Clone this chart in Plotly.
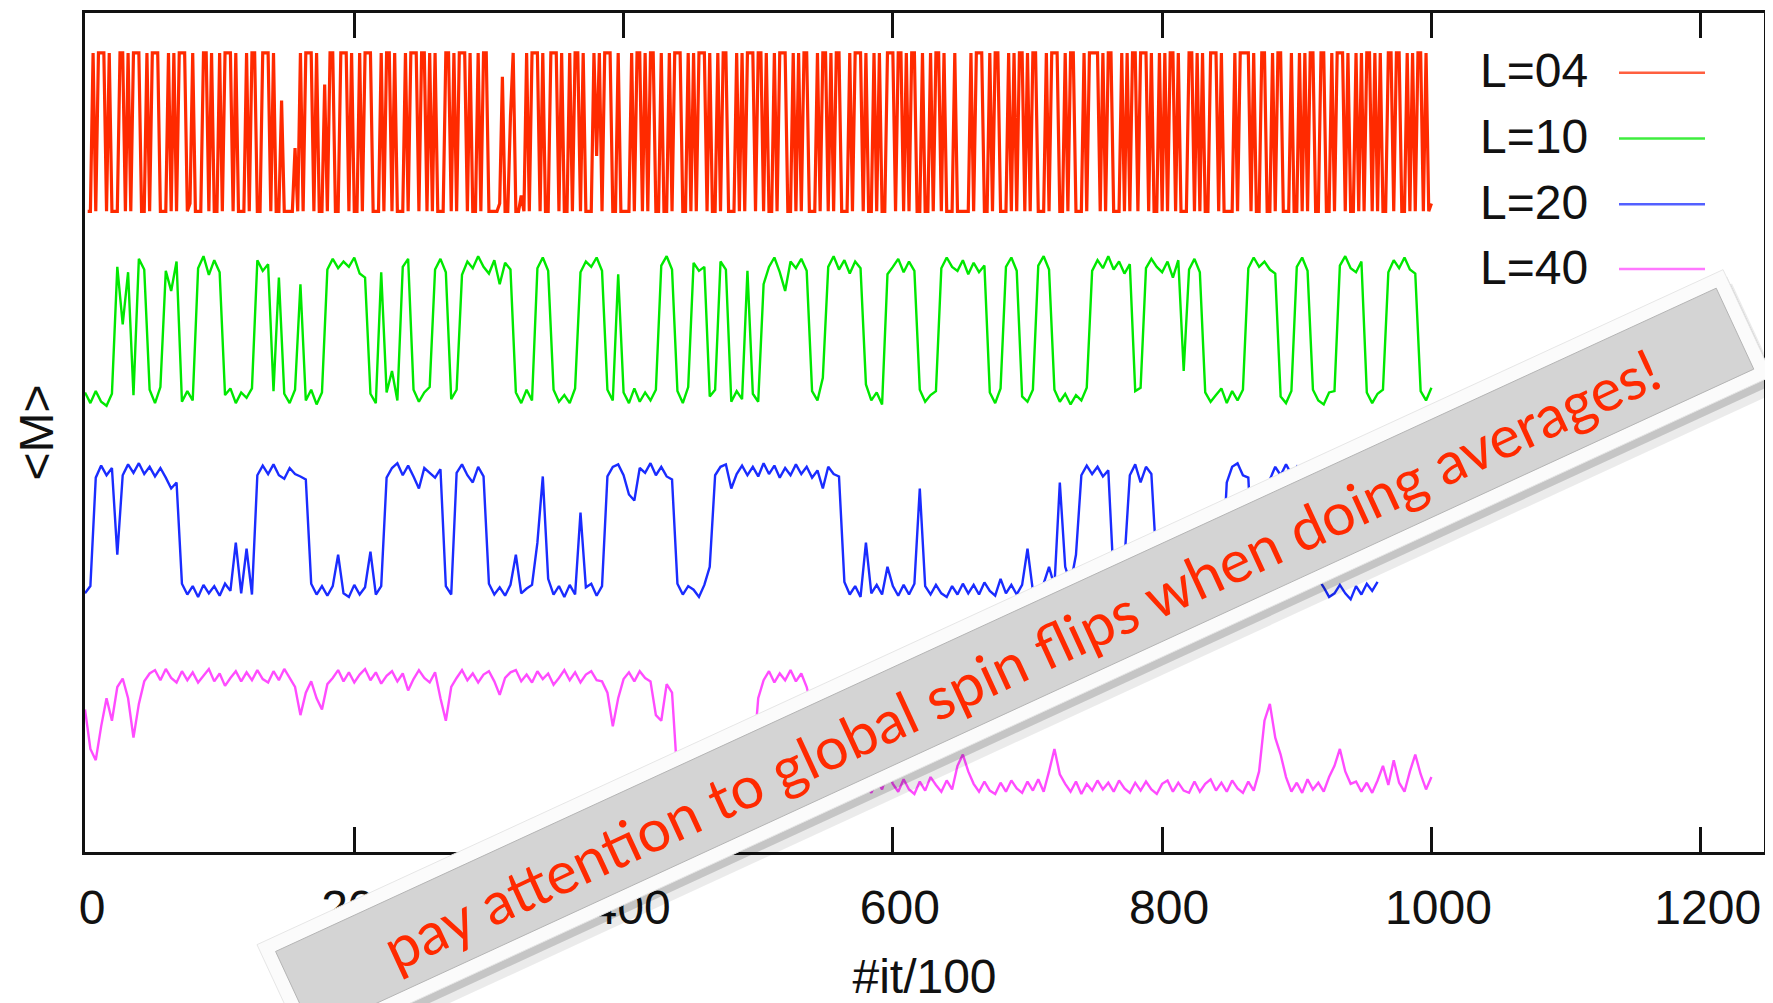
import math
import plotly.graph_objects as go

# ---------------- data ----------------
X_TICKS = [0, 200, 400, 600, 800, 1000, 1200]
LABELS = ["L=04", "L=10", "L=20", "L=40"]

# L=04 : magnetisation in tenths, sampled every 2 sweeps starting at x=2
L04_X0, L04_DX = 2, 2
m_L04 = [
    -10,-10,10,-10,10,10,10,-10,10,-10,-10,-10,10,10,-10,10,-10,10,10,10,-10,-10,10,-10,10,
    10,10,-10,-10,-10,10,-10,10,-10,10,10,10,-10,-9,10,-10,-10,-10,10,10,-10,10,-10,-10,10,
    -10,10,10,10,-10,10,-10,-10,-10,10,-10,10,10,-10,-10,10,10,10,-10,10,-10,-10,4,-10,-10,
    -10,-10,-2,-10,10,-10,10,10,10,-10,10,-10,-10,6,-10,10,10,-10,-10,10,10,10,-10,10,-10,
    -10,10,-10,10,10,10,-10,-10,-10,10,-10,10,10,-10,10,-10,-10,-10,10,-10,10,10,10,-10,10,
    10,-10,10,-10,10,-10,-10,-10,10,10,-10,10,-10,10,10,10,-10,10,-10,-10,10,-10,10,10,-10,
    -10,-10,-10,-9,7,-10,-10,2,10,-10,-10,-8,-10,10,-10,10,10,10,-10,10,-10,-10,10,10,10,
    -10,10,-10,-10,10,-10,10,10,-10,10,-10,-10,-10,10,-3,10,-10,10,10,10,-10,-10,10,-10,-10,
    -10,-10,10,-10,10,10,-10,10,-10,10,10,-10,-10,10,-10,-10,10,-10,10,10,10,-10,-10,10,-10,
    10,-10,10,10,10,-10,10,-10,-10,10,-10,10,10,-10,-10,-10,10,-10,10,-10,10,10,10,-10,10,
    10,-10,10,-10,-10,10,-10,10,10,10,-10,-10,10,-10,10,-10,10,10,-10,-10,-10,10,-10,10,10,
    -10,10,-10,10,10,-10,-10,-10,10,-10,10,10,10,-10,10,-10,-10,10,-10,10,-10,-10,10,10,10,
    -10,10,10,-10,10,-10,10,10,-10,-10,10,-10,-10,10,-10,10,10,-10,10,-10,-10,-10,10,-10,-10,
    -10,-10,-10,10,-10,10,10,10,-10,-10,10,-10,10,10,-10,-10,-10,10,-10,10,-10,10,10,-10,10,
    -10,10,10,-10,-10,-10,10,-10,10,10,10,-10,-10,10,-10,10,10,-10,-10,-10,10,-10,10,10,10,
    10,-10,10,-10,10,10,-10,-10,-10,10,-10,10,-10,10,10,-10,10,10,10,-10,10,-10,-10,10,-10,
    10,-10,10,10,-10,10,-10,-10,-10,10,10,-10,10,-10,10,-10,-10,10,10,10,-10,10,-10,-10,-10,
    -10,10,-10,10,10,10,10,-10,10,-10,-10,10,10,-10,-10,10,-10,10,10,-10,-10,-10,10,-10,-10,
    10,-10,10,-10,10,10,-10,-10,10,10,-10,-10,10,-10,10,10,10,-10,10,-10,-10,10,-10,10,-10,
    10,10,-10,10,-10,10,-10,-10,10,10,-10,10,10,-10,-10,10,-10,10,-10,10,10,-10,10,-10,-9,
]

# L=10, L=20, L=40 : magnetisation in hundredths, sampled every 4 sweeps from x=0
STEP = 4
m_L10 = [
    -92,-108,-90,-106,-112,-94,96,10,88,-96,
    108,92,-88,-108,-84,90,60,104,-106,-90,
    -104,94,112,84,106,88,-96,-86,-108,-92,
    -100,-86,106,90,100,-90,80,-94,-108,-88,
    70,-104,-88,-110,-92,92,108,94,104,96,
    110,86,80,-94,-108,88,-92,-60,-104,96,
    108,-88,-106,-92,-84,92,108,88,-102,-88,
    84,104,94,112,96,86,106,70,102,92,
    -92,-108,-88,-104,94,110,90,-88,-106,-96,
    -108,-86,88,104,96,110,90,-88,-104,85,
    -92,-108,-86,-106,-92,-104,-88,98,112,92,
    -90,-108,-84,102,90,96,-98,-88,104,92,
    -106,-90,-102,90,-94,-106,70,96,110,88,
    60,104,94,108,90,-90,-104,-70,96,112,
    92,106,86,104,94,-80,-104,-92,-110,85,
    96,108,88,104,90,-88,-106,-96,-90,94,
    110,96,90,106,85,102,88,98,-92,-108,
    -86,96,110,90,-98,-106,-88,98,112,92,
    -88,-106,-94,-110,-96,-104,-85,90,106,94,
    112,92,104,86,100,-90,-85,94,108,96,
    88,104,80,106,-60,92,108,88,-92,-106,
    -96,-86,-108,-90,-104,-88,94,110,96,104,
    92,86,-98,-108,-90,96,110,90,-88,-104,
    -110,-92,-90,98,112,94,88,104,-92,-108,
    -94,-88,88,106,94,110,92,86,-90,-104,
    -85,
]
m_L20 = [
    -104,-92,88,108,92,104,-40,92,110,96,
    112,94,106,90,104,88,70,80,-88,-106,
    -92,-110,-90,-104,-92,-108,-88,-100,-20,-104,
    -30,-106,92,108,94,110,92,86,104,94,
    90,85,-88,-106,-92,-108,-92,-40,-104,-110,
    -90,-106,-94,-35,-106,-92,88,104,112,92,
    108,90,70,104,96,88,102,-92,-106,96,
    110,92,80,106,90,-88,-106,-94,-108,-90,
    -40,-104,-96,-90,-20,90,-80,-106,-92,-110,
    -90,-106,30,-94,-88,-108,-92,90,106,110,
    92,60,50,104,96,112,92,106,90,85,
    -88,-106,-92,-98,-110,-90,-60,92,106,110,
    70,94,108,92,106,90,112,94,108,88,
    104,92,110,94,106,88,100,70,106,94,
    90,-85,-106,-92,-110,-20,-104,-90,-106,-60,
    -92,-108,-90,-106,-88,70,-92,-106,-90,-104,
    -110,-92,-106,-88,-104,-90,-106,-86,-100,-108,
    -80,-104,-90,-106,-90,-30,-100,-106,-88,-60,
    -92,80,-60,-88,-40,92,108,94,106,90,
    100,-80,-94,-50,92,110,80,106,94,-60,
    -92,-106,-90,-104,-108,-88,-102,-108,-92,-106,
    -60,-92,80,106,112,92,88,-88,-104,-60,
    85,106,92,110,94,106,88,102,90,-80,
    -94,-110,-104,-90,-104,-114,-92,-106,-88,-100,
    -85,
]
m_L40 = [
    40,-30,-50,10,60,20,80,95,60,-10,
    50,90,104,110,92,112,96,88,108,92,
    106,88,100,112,90,104,82,96,108,90,
    106,92,110,94,88,108,92,112,96,80,
    30,70,90,60,40,85,96,110,90,106,
    88,102,112,92,106,86,100,108,90,104,
    74,94,110,96,88,106,60,20,80,96,
    110,92,104,88,102,108,90,66,96,106,
    110,90,102,88,108,94,104,84,96,110,
    92,106,88,102,108,92,90,70,10,60,
    94,106,90,108,96,90,30,20,85,70,
    -80,-106,-90,-104,-108,-88,-104,-92,-70,-104,
    -106,-88,-100,-106,-60,60,92,108,88,104,
    92,110,90,104,80,40,-90,-106,-92,-110,
    -88,-106,-92,-84,-104,-90,-108,-86,-102,-70,
    -92,-106,-84,-102,-110,-88,-104,-80,-94,-106,
    -86,-102,-60,-40,-70,-92,-106,-88,-104,-110,
    -90,-106,-86,-100,-108,-88,-104,-84,-106,-70,
    -30,-75,-92,-106,-88,-110,-92,-104,-86,-102,
    -90,-106,-86,-100,-108,-90,-104,-88,-102,-110,
    -92,-86,-106,-90,-104,-108,-88,-106,-92,-84,
    -104,-90,-106,-86,-100,-108,-88,-104,-70,20,
    50,-10,-40,-80,-106,-90,-108,-84,-102,-90,
    -106,-80,-60,-30,-70,-92,-88,-106,-90,-108,
    -86,-60,-94,-50,-90,-106,-70,-40,-75,-102,
    -80,
]

# ---------------- styling ----------------
COLORS = ["#ff2a00", "#00e800", "#1a2cff", "#ff4cff"]
WIDTHS = [3.2, 2.4, 2.4, 2.4]
# vertical stacking of the four curves (centre, half height) in axis units 0..100
BANDS = [(85.8, 9.44), (62.1, 7.96), (38.3, 7.18), (14.3, 6.71)]
SCALES = [10.0, 100.0, 100.0, 100.0]

# the page body has an 8px margin: the figure is sized to fill the rest
PAGE_OFF = 8
W, H = 1773 - PAGE_OFF, 1003 - PAGE_OFF
ML, MR, MT, MB = 85 - PAGE_OFF, 9, 10 - PAGE_OFF, 151
PW, PH = W - ML - MR, H - MT - MB


def paper(px, py):
    """reference-window pixel -> paper coordinates"""
    fx, fy = px - PAGE_OFF, py - PAGE_OFF
    return ((fx - ML) / PW, (H - MB - fy) / PH)


series = [m_L04, m_L10, m_L20, m_L40]
xs = [
    [L04_X0 + L04_DX * i for i in range(len(m_L04))],
    [STEP * i for i in range(len(m_L10))],
    [STEP * i for i in range(len(m_L20))],
    [STEP * i for i in range(len(m_L40))],
]

fig = go.Figure()
for k in range(4):
    c, h = BANDS[k]
    ys = [c + h * v / SCALES[k] for v in series[k]]
    fig.add_trace(go.Scatter(
        x=xs[k], y=ys, mode="lines", name=LABELS[k],
        line=dict(color=COLORS[k], width=WIDTHS[k], simplify=False),
        showlegend=False, hoverinfo="skip",
    ))

shapes = []
annotations = []

# manual legend: text then line sample (gnuplot style)
LEG_ROWS = [68, 134, 200, 265]
for k in range(4):
    tx, ty = paper(1590, LEG_ROWS[k])
    annotations.append(dict(
        x=tx, y=ty, xref="paper", yref="paper", text=LABELS[k],
        showarrow=False, xanchor="right", yanchor="middle",
        font=dict(size=48, color="#111111", family="Liberation Sans, Arial, sans-serif"),
    ))
    x0, y0 = paper(1619, LEG_ROWS[k] + 2)
    x1, _ = paper(1705, LEG_ROWS[k] + 2)
    shapes.append(dict(type="line", xref="paper", yref="paper",
                       x0=x0, x1=x1, y0=y0, y1=y0,
                       line=dict(color=COLORS[k], width=2.5), opacity=0.75))

# banner ("sticker") drawn over the chart
theta = math.radians(24.8)
u = (math.cos(theta), -math.sin(theta))
n = (math.sin(theta), math.cos(theta))
A = (257.0, 945.0)
BL, BT, BB = 1615.0, 117.5, 14.0


def pt(a, b):
    return (A[0] + a * u[0] + b * n[0], A[1] + a * u[1] + b * n[1])


def poly(pts, dx=0.0, dy=0.0):
    s = ""
    for i, (px, py) in enumerate(pts):
        xp, yp = paper(px + dx, py + dy)
        s += ("M" if i == 0 else "L") + f"{xp:.5f},{yp:.5f} "
    return s + "Z"


outer = [pt(0, 0), pt(BL, 0), pt(BL, BT), pt(0, BT)]
inner = [pt(BB, BB), pt(BL - BB, BB), pt(BL - BB, BT - BB), pt(BB, BT - BB)]

shapes.append(dict(type="path", xref="paper", yref="paper", layer="above",
                   path=poly(outer, 9, 14), fillcolor="rgba(0,0,0,0.08)",
                   line=dict(width=0)))
shapes.append(dict(type="path", xref="paper", yref="paper", layer="above",
                   path=poly(outer, 4, 7), fillcolor="rgba(0,0,0,0.16)",
                   line=dict(width=0)))
shapes.append(dict(type="path", xref="paper", yref="paper", layer="above",
                   path=poly(outer), fillcolor="#fbfbfb",
                   line=dict(color="#e6e6e6", width=1)))
shapes.append(dict(type="path", xref="paper", yref="paper", layer="above",
                   path=poly(inner), fillcolor="#d4d4d4",
                   line=dict(color="#b4b4b4", width=1)))

cx, cy = pt(BL / 2, BT / 2)
tx, ty = paper(cx + 6, cy - 2)
annotations.append(dict(
    x=tx, y=ty, xref="paper", yref="paper",
    text="pay attention to global spin flips when doing averages!",
    showarrow=False, textangle=-24.8, xanchor="center", yanchor="middle",
    font=dict(size=59, color="#ff2a00", family="Lato, 'Open Sans', sans-serif"),
))

fig.update_layout(
    width=W, height=H,
    margin=dict(l=ML, r=MR, t=MT, b=MB),
    paper_bgcolor="white", plot_bgcolor="white",
    font=dict(family="Liberation Sans, Arial, sans-serif", size=48, color="#111111"),
    showlegend=False,
    shapes=shapes, annotations=annotations,
    xaxis=dict(
        range=[0, 1247], tickvals=X_TICKS, ticktext=[str(v) for v in X_TICKS],
        ticks="inside", ticklen=25, tickwidth=3, tickcolor="#111111",
        showline=True, linewidth=3, linecolor="#111111", mirror="ticks",
        showgrid=False, zeroline=False,
        tickfont=dict(size=48), ticklabelshift=7, ticklabelstandoff=11,
        title=dict(text="#it/100", font=dict(size=48), standoff=28),
    ),
    yaxis=dict(
        range=[0, 100], showline=True, linewidth=3, linecolor="#111111", mirror=True,
        ticks="", showticklabels=False, showgrid=False, zeroline=False,
        title=dict(text="&lt;M&gt;", font=dict(size=48), standoff=14),
    ),
)

fig.write_html("out.html", config={"displayModeBar": False})
